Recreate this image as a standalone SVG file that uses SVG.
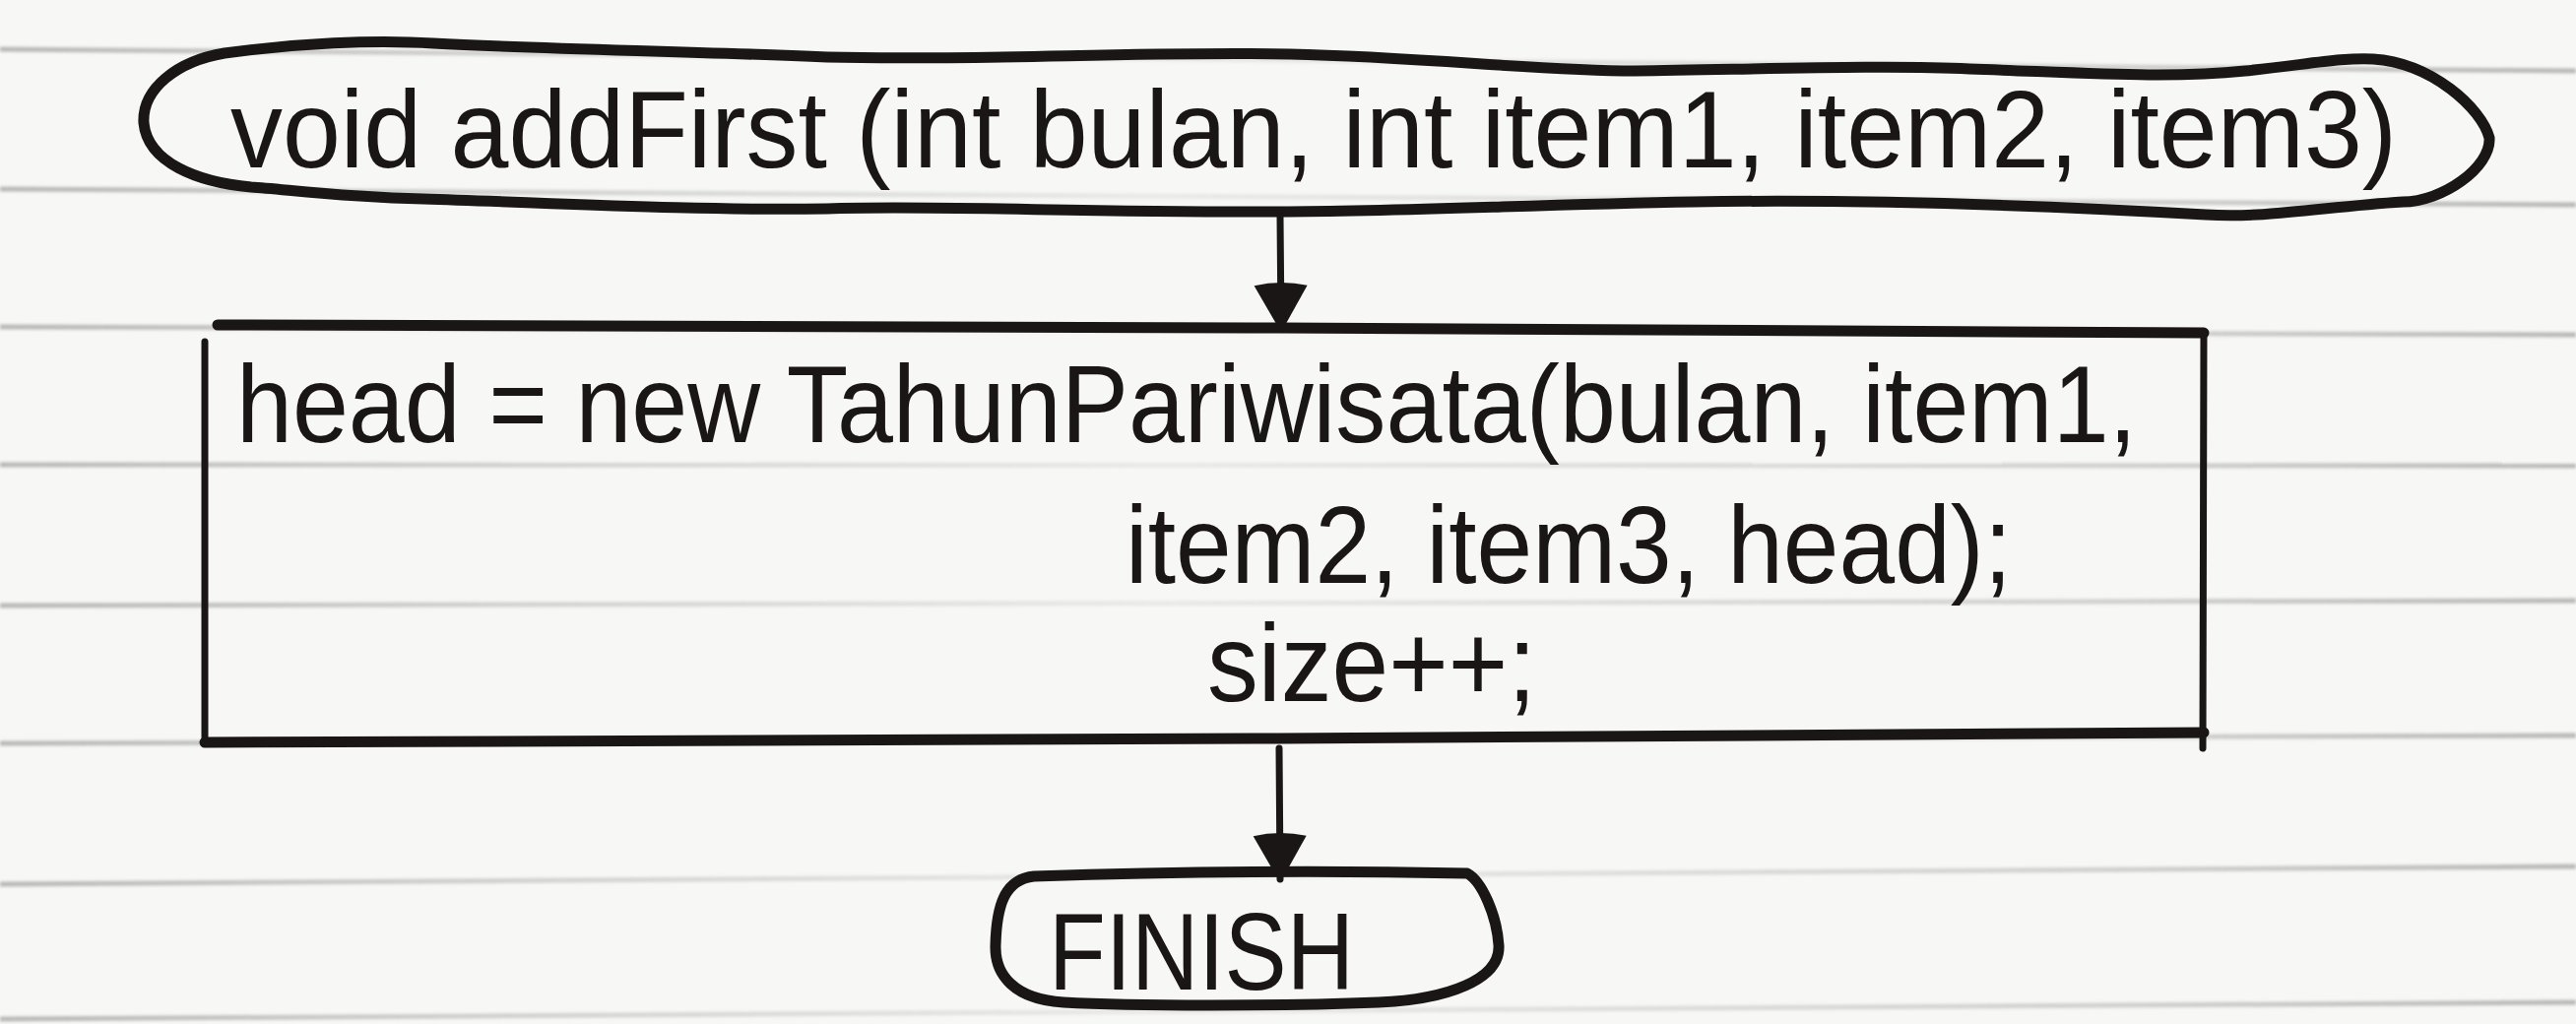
<svg xmlns="http://www.w3.org/2000/svg" width="2616" height="1040" viewBox="0 0 2616 1040">
  <defs>
    <linearGradient id="rule" gradientUnits="userSpaceOnUse" x1="0" y1="0" x2="2616" y2="0">
      <stop offset="0" stop-color="#8f8f8f" stop-opacity="0.6"/>
      <stop offset="0.12" stop-color="#8f8f8f" stop-opacity="0.45"/>
      <stop offset="0.45" stop-color="#9a9a9a" stop-opacity="0.15"/>
      <stop offset="0.85" stop-color="#8f8f8f" stop-opacity="0.4"/>
      <stop offset="1" stop-color="#8f8f8f" stop-opacity="0.6"/>
    </linearGradient>
    <filter id="soft" x="-1%" y="-50%" width="102%" height="200%">
      <feGaussianBlur stdDeviation="1.6"/>
    </filter>
    <marker id="head" viewBox="0 0 50 58" refX="48" refY="29" markerWidth="50" markerHeight="58" markerUnits="userSpaceOnUse" orient="auto">
      <path d="M4,2 Q-2,29 4,56 L48,31 Q50,29 48,27 Z" fill="#1b1616"/>
    </marker>
  </defs>
  <style>
    .ink { fill: none; stroke: #1b1616; stroke-linecap: round; stroke-linejoin: round; }
    .edge { stroke-width: 11; }
    .thin { stroke-width: 7; }
    .txt { font-family: "Liberation Sans", Arial, sans-serif; fill: #1b1616; font-size: 112px; }
    .rule { fill: none; stroke: url(#rule); stroke-width: 5; }
    .conn { fill: none; stroke: #1b1616; stroke-width: 7; stroke-linecap: round; }
  </style>

  <!-- paper -->
  <rect x="0" y="0" width="2616" height="1040" fill="#f7f7f5"/>

  <!-- ruled lines of the notebook page -->
  <g id="ruling" filter="url(#soft)">
    <path class="rule" d="M0,50 L2616,72"/>
    <path class="rule" d="M0,192 L2616,208"/>
    <path class="rule" d="M0,332 L2616,340"/>
    <path class="rule" d="M0,472 L2616,473"/>
    <path class="rule" d="M0,615 L2616,610"/>
    <path class="rule" d="M0,755 L2616,747"/>
    <path class="rule" d="M0,898 L2616,880"/>
    <path class="rule" d="M0,1035 L2616,1018"/>
  </g>

  <!-- start terminator -->
  <g id="start">
    <path class="ink edge" d="M228,54 C300,44 380,40 440,44 C560,50 700,52 840,58 C1000,62 1150,52 1310,55 C1450,58 1560,72 1660,72 C1800,70 1920,66 2000,70 C2120,74 2200,80 2280,72 C2340,66 2380,58 2410,60 C2470,64 2520,110 2528,140 C2530,170 2480,205 2440,205 C2360,210 2300,222 2240,218 C2100,210 1900,202 1720,205 C1550,208 1420,215 1300,215 C1100,216 950,208 840,212 C700,214 560,206 430,202 C340,200 290,192 255,190 C200,185 150,165 146,125 C144,90 180,62 228,54 Z"/>
    <text class="txt" x="234" y="170" font-size="102" textLength="2200" lengthAdjust="spacingAndGlyphs">void addFirst (int bulan, int item1, item2, item3)</text>
  </g>

  <!-- process box -->
  <g id="process">
    <path class="ink" stroke-width="11" d="M221,330 L1300,333 L2238,338 M208,754 L1300,750 L2238,744"/>
    <path class="ink thin" d="M208,347 L208,754 M2238,338 L2237,760"/>
    <text class="txt" x="240" y="449" textLength="1930" lengthAdjust="spacingAndGlyphs">head = new TahunPariwisata(bulan, item1,</text>
    <text class="txt" x="1143" y="592" textLength="900" lengthAdjust="spacingAndGlyphs">item2, item3, head);</text>
    <text class="txt" x="1226" y="712" textLength="334" lengthAdjust="spacingAndGlyphs">size++;</text>
  </g>

  <!-- end terminator -->
  <g id="finish">
    <path class="ink edge" d="M1050,890 C1200,885 1350,884 1490,887 C1505,895 1520,930 1522,960 C1524,995 1470,1015 1400,1018 C1300,1022 1150,1022 1080,1018 C1030,1015 1010,990 1011,960 C1012,920 1020,893 1050,890 Z"/>
    <text class="txt" x="1065" y="1005" font-size="108" textLength="310" lengthAdjust="spacingAndGlyphs">FINISH</text>
  </g>

  <!-- connectors -->
  <g id="connectors">
    <path class="conn" d="M1300,220 L1301,334" marker-end="url(#head)"/>
    <path class="conn" d="M1299,760 L1300,893" marker-end="url(#head)"/>
  </g>
</svg>
